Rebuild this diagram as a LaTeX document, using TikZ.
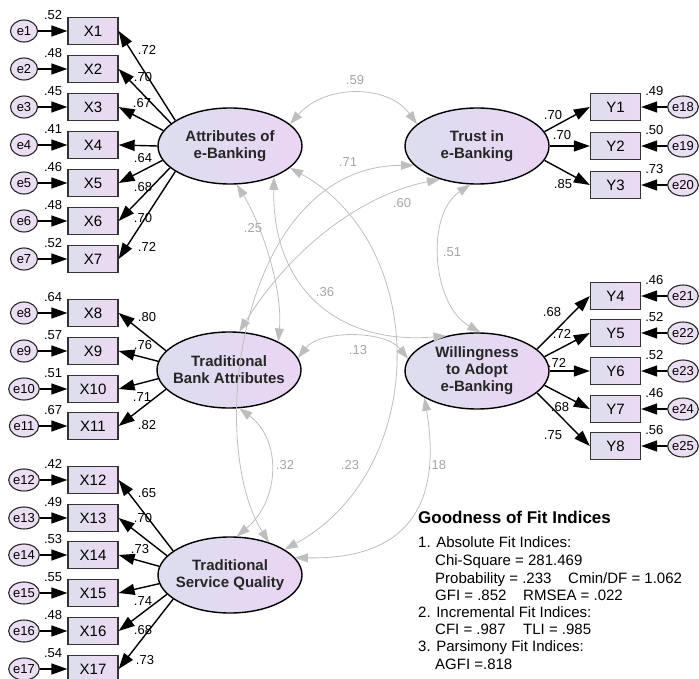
\documentclass[tikz,border=0pt]{standalone}
\usepackage{fontspec}
\setmainfont{Liberation Sans}
\usetikzlibrary{shapes.geometric,arrows.meta}

\definecolor{obsleft}{RGB}{221,223,236}
\definecolor{obsright}{RGB}{236,217,243}
\definecolor{latleft}{RGB}{220,222,238}
\definecolor{latright}{RGB}{234,213,244}
\definecolor{errfill}{RGB}{234,222,243}
\definecolor{covline}{RGB}{190,190,190}
\definecolor{covtext}{RGB}{165,165,165}

\begin{document}
\begin{tikzpicture}
    [   x=1pt, y=-1pt,
        lat/.style={ellipse,draw=black,line width=1.4pt,left color=latleft,right color=latright,minimum width=144pt,minimum height=76pt,inner sep=0pt},
        lattext/.style={font=\fontsize{15}{17}\selectfont\bfseries,align=center,text=black!85},
        obs/.style={draw=black!80,line width=1.3pt,left color=obsleft,right color=obsright,minimum width=50pt,minimum height=27pt,inner sep=0pt,font=\fontsize{15}{18}\selectfont},
        err/.style={ellipse,draw=black!85,line width=1.1pt,fill=errfill,minimum width=27pt,minimum height=22pt,inner sep=0pt,font=\fontsize{13}{15}\selectfont},
        load/.style={line width=1.4pt,-{Triangle[length=16pt,width=11pt]}},
        cov/.style={color=covline,line width=0.8pt,{Triangle[length=13pt,width=9pt]}-{Triangle[length=13pt,width=9pt]}},
        num/.style={font=\fontsize{13}{15}\selectfont,inner sep=0pt},
        cnum/.style={num,text=covtext},
        fittxt/.style={font=\fontsize{15}{17}\selectfont,inner sep=0pt,anchor=base west},
    ]
    \useasboundingbox (0,0) rectangle (699,679);

    % latent factors
    \node[lat,label={[lattext]center:{Attributes of\\e-Banking}}] (attr) at (230,146) {};
    \node[lat,label={[lattext]center:{Trust in\\e-Banking}}] (trust) at (477,146) {};
    \node[lat,label={[lattext]center:{Traditional\\Bank Attributes}}] (bank) at (229,370) {};
    \node[lat,label={[lattext]center:{Willingness\\to Adopt\\e-Banking}}] (will) at (477,371) {};
    \node[lat,label={[lattext]center:{Traditional\\Service Quality}}] (serv) at (230,575) {};

    % observed items, left
    \node[obs] (X1) at (93,31) {X1};
    \node[obs] (X2) at (93,69) {X2};
    \node[obs] (X3) at (93,107) {X3};
    \node[obs] (X4) at (93,145) {X4};
    \node[obs] (X5) at (93,183) {X5};
    \node[obs] (X6) at (93,221) {X6};
    \node[obs] (X7) at (93,259) {X7};
    \node[obs] (X8) at (93,313) {X8};
    \node[obs] (X9) at (93,351) {X9};
    \node[obs] (X10) at (93,389) {X10};
    \node[obs] (X11) at (93,426) {X11};
    \node[obs] (X12) at (93,480) {X12};
    \node[obs] (X13) at (93,518) {X13};
    \node[obs] (X14) at (93,555) {X14};
    \node[obs] (X15) at (93,593) {X15};
    \node[obs] (X16) at (93,631) {X16};
    \node[obs] (X17) at (93,669) {X17};

    % observed items, right
    \node[obs] (Y1) at (615.5,107) {Y1};
    \node[obs] (Y2) at (615.5,146) {Y2};
    \node[obs] (Y3) at (615.5,185) {Y3};
    \node[obs] (Y4) at (615.5,296) {Y4};
    \node[obs] (Y5) at (615.5,333) {Y5};
    \node[obs] (Y6) at (615.5,371) {Y6};
    \node[obs] (Y7) at (615.5,409) {Y7};
    \node[obs] (Y8) at (615.5,446) {Y8};

    % error terms
    \node[err] (e1) at (24,31) {e1};
    \node[err] (e2) at (24,69) {e2};
    \node[err] (e3) at (24,107) {e3};
    \node[err] (e4) at (24,145) {e4};
    \node[err] (e5) at (24,183) {e5};
    \node[err] (e6) at (24,221) {e6};
    \node[err] (e7) at (24,259) {e7};
    \node[err] (e8) at (24,313) {e8};
    \node[err] (e9) at (24,351) {e9};
    \node[err] (e10) at (24,389) {e10};
    \node[err] (e11) at (24,426) {e11};
    \node[err] (e12) at (24,480) {e12};
    \node[err] (e13) at (24,518) {e13};
    \node[err] (e14) at (24,555) {e14};
    \node[err] (e15) at (24,593) {e15};
    \node[err] (e16) at (24,631) {e16};
    \node[err] (e17) at (24,669) {e17};
    \node[err] (e18) at (683,107) {e18};
    \node[err] (e19) at (683,146) {e19};
    \node[err] (e20) at (683,185) {e20};
    \node[err] (e21) at (683,296) {e21};
    \node[err] (e22) at (683,333) {e22};
    \node[err] (e23) at (683,371) {e23};
    \node[err] (e24) at (683,409) {e24};
    \node[err] (e25) at (683,446) {e25};

    \draw[load] (e1) -- (X1);
    \draw[load] (e2) -- (X2);
    \draw[load] (e3) -- (X3);
    \draw[load] (e4) -- (X4);
    \draw[load] (e5) -- (X5);
    \draw[load] (e6) -- (X6);
    \draw[load] (e7) -- (X7);
    \draw[load] (e8) -- (X8);
    \draw[load] (e9) -- (X9);
    \draw[load] (e10) -- (X10);
    \draw[load] (e11) -- (X11);
    \draw[load] (e12) -- (X12);
    \draw[load] (e13) -- (X13);
    \draw[load] (e14) -- (X14);
    \draw[load] (e15) -- (X15);
    \draw[load] (e16) -- (X16);
    \draw[load] (e17) -- (X17);
    \draw[load] (e18) -- (Y1);
    \draw[load] (e19) -- (Y2);
    \draw[load] (e20) -- (Y3);
    \draw[load] (e21) -- (Y4);
    \draw[load] (e22) -- (Y5);
    \draw[load] (e23) -- (Y6);
    \draw[load] (e24) -- (Y7);
    \draw[load] (e25) -- (Y8);

    % loadings
    \draw[load] (attr.155) -- (X1.east);
    \draw[load] (attr.159) -- (X2.east);
    \draw[load] (attr.167) -- (X3.east);
    \draw[load] (attr.180) -- (X4.east);
    \draw[load] (attr.192) -- (X5.east);
    \draw[load] (attr.200) -- (X6.east);
    \draw[load] (attr.205) -- (X7.east);
    \draw[load] (bank.163) -- (X8.east);
    \draw[load] (bank.173) -- (X9.east);
    \draw[load] (bank.187) -- (X10.east);
    \draw[load] (bank.197) -- (X11.east);
    \draw[load] (serv.157) -- (X12.east);
    \draw[load] (serv.163) -- (X13.east);
    \draw[load] (serv.173) -- (X14.east);
    \draw[load] (serv.187) -- (X15.east);
    \draw[load] (serv.197) -- (X16.east);
    \draw[load] (serv.203) -- (X17.east);
    \draw[load] (trust.12) -- (Y1.west);
    \draw[load] (trust.0) -- (Y2.west);
    \draw[load] (trust.-12) -- (Y3.west);
    \draw[load] (will.20) -- (Y4.west);
    \draw[load] (will.12) -- (Y5.west);
    \draw[load] (will.0) -- (Y6.west);
    \draw[load] (will.-12) -- (Y7.west);
    \draw[load] (will.-20) -- (Y8.west);

    % covariances
    \draw[cov] (attr.20) .. controls (325,84) and (388,84) .. (trust.160);
    \draw[cov] (attr.-80) .. controls (262,225) and (283,290) .. (bank.30);
    \draw[cov] (attr.-35) .. controls (272,290) and (340,345) .. (will.131);
    \draw[cov] (attr.-20) .. controls (430,245) and (430,470) .. (serv.25);
    \draw[cov] (bank.75) .. controls (290,250) and (360,195) .. (trust.222);
    \draw[cov] (serv.40) .. controls (205,440) and (240,166) .. (trust.197);
    \draw[cov] (trust.-100) .. controls (425,215) and (432,305) .. (will.85);
    \draw[cov] (bank.10) .. controls (320,330) and (385,330) .. (will.170);
    \draw[cov] (bank.-75) .. controls (282,440) and (280,500) .. (serv.80);
    \draw[cov] (will.207) .. controls (440,490) and (420,560) .. (serv.15);

    \node[cnum] (c1) at (355,80) {.59};
    \node[cnum] (c2) at (348,162) {.71};
    \node[cnum] (c3) at (402,203) {.60};
    \node[cnum] (c4) at (253,228) {.25};
    \node[cnum] (c5) at (325,292) {.36};
    \node[cnum] (c6) at (452,252) {.51};
    \node[cnum] (c7) at (358,350) {.13};
    \node[cnum] (c8) at (285,465) {.32};
    \node[cnum] (c9) at (350,465) {.23};
    \node[cnum] (c10) at (437,465) {.18};

    % squared multiple correlations
    \node[num,anchor=east] (r1) at ([xshift=-5pt,yshift=1.5pt]X1.north west) {.52};
    \node[num,anchor=east] (r2) at ([xshift=-5pt,yshift=1.5pt]X2.north west) {.48};
    \node[num,anchor=east] (r3) at ([xshift=-5pt,yshift=1.5pt]X3.north west) {.45};
    \node[num,anchor=east] (r4) at ([xshift=-5pt,yshift=1.5pt]X4.north west) {.41};
    \node[num,anchor=east] (r5) at ([xshift=-5pt,yshift=1.5pt]X5.north west) {.46};
    \node[num,anchor=east] (r6) at ([xshift=-5pt,yshift=1.5pt]X6.north west) {.48};
    \node[num,anchor=east] (r7) at ([xshift=-5pt,yshift=1.5pt]X7.north west) {.52};
    \node[num,anchor=east] (r8) at ([xshift=-5pt,yshift=1.5pt]X8.north west) {.64};
    \node[num,anchor=east] (r9) at ([xshift=-5pt,yshift=1.5pt]X9.north west) {.57};
    \node[num,anchor=east] (r10) at ([xshift=-5pt,yshift=1.5pt]X10.north west) {.51};
    \node[num,anchor=east] (r11) at ([xshift=-5pt,yshift=1.5pt]X11.north west) {.67};
    \node[num,anchor=east] (r12) at ([xshift=-5pt,yshift=1.5pt]X12.north west) {.42};
    \node[num,anchor=east] (r13) at ([xshift=-5pt,yshift=1.5pt]X13.north west) {.49};
    \node[num,anchor=east] (r14) at ([xshift=-5pt,yshift=1.5pt]X14.north west) {.53};
    \node[num,anchor=east] (r15) at ([xshift=-5pt,yshift=1.5pt]X15.north west) {.55};
    \node[num,anchor=east] (r16) at ([xshift=-5pt,yshift=1.5pt]X16.north west) {.48};
    \node[num,anchor=east] (r17) at ([xshift=-5pt,yshift=1.5pt]X17.north west) {.54};
    \node[num,anchor=west] (r18) at ([xshift=4pt,yshift=1.5pt]Y1.north east) {.49};
    \node[num,anchor=west] (r19) at ([xshift=4pt,yshift=1.5pt]Y2.north east) {.50};
    \node[num,anchor=west] (r20) at ([xshift=4pt,yshift=1.5pt]Y3.north east) {.73};
    \node[num,anchor=west] (r21) at ([xshift=4pt,yshift=1.5pt]Y4.north east) {.46};
    \node[num,anchor=west] (r22) at ([xshift=4pt,yshift=1.5pt]Y5.north east) {.52};
    \node[num,anchor=west] (r23) at ([xshift=4pt,yshift=1.5pt]Y6.north east) {.52};
    \node[num,anchor=west] (r24) at ([xshift=4pt,yshift=1.5pt]Y7.north east) {.46};
    \node[num,anchor=west] (r25) at ([xshift=4pt,yshift=1.5pt]Y8.north east) {.56};

    % loading values
    \node[num] (l1) at (147,50) {.72};
    \node[num] (l2) at (143,77) {.70};
    \node[num] (l3) at (142,103) {.67};
    \node[num] (l4) at (143,158) {.64};
    \node[num] (l5) at (143,187) {.68};
    \node[num] (l6) at (143,218) {.70};
    \node[num] (l7) at (147,247) {.72};
    \node[num] (l8) at (147,317) {.80};
    \node[num] (l9) at (143,345) {.76};
    \node[num] (l10) at (142,397) {.71};
    \node[num] (l11) at (147,425) {.82};
    \node[num] (l12) at (147,493) {.65};
    \node[num] (l13) at (143,518) {.70};
    \node[num] (l14) at (140,549) {.73};
    \node[num] (l15) at (143,601) {.74};
    \node[num] (l16) at (143,630) {.68};
    \node[num] (l17) at (145,660) {.73};
    \node[num] (l18) at (553,115) {.70};
    \node[num] (l19) at (562,135) {.70};
    \node[num] (l20) at (563,184) {.85};
    \node[num] (l21) at (552,312) {.68};
    \node[num] (l22) at (562,334) {.72};
    \node[num] (l23) at (557,363) {.72};
    \node[num] (l24) at (560,407) {.68};
    \node[num] (l25) at (553,435) {.75};

    % fit indices
    \node[fittxt,font=\fontsize{17}{20}\selectfont\bfseries] (g0) at (418,523) {Goodness of Fit Indices};
    \node[fittxt] (g1) at (418,547.5) {1. Absolute Fit Indices:};
    \node[fittxt] (g2) at (435,565.5) {Chi-Square = 281.469};
    \node[fittxt] (g3) at (435,583) {\makebox[133pt][l]{Probability = .233}Cmin/DF = 1.062};
    \node[fittxt] (g4) at (435,600) {\makebox[88pt][l]{GFI = .852}RMSEA = .022};
    \node[fittxt] (g5) at (418,617) {2. Incremental Fit Indices:};
    \node[fittxt] (g6) at (435,634.5) {\makebox[88pt][l]{CFI = .987}TLI = .985};
    \node[fittxt] (g7) at (418,651.5) {3. Parsimony Fit Indices:};
    \node[fittxt] (g8) at (435,669) {AGFI =.818};
\end{tikzpicture}
\end{document}
